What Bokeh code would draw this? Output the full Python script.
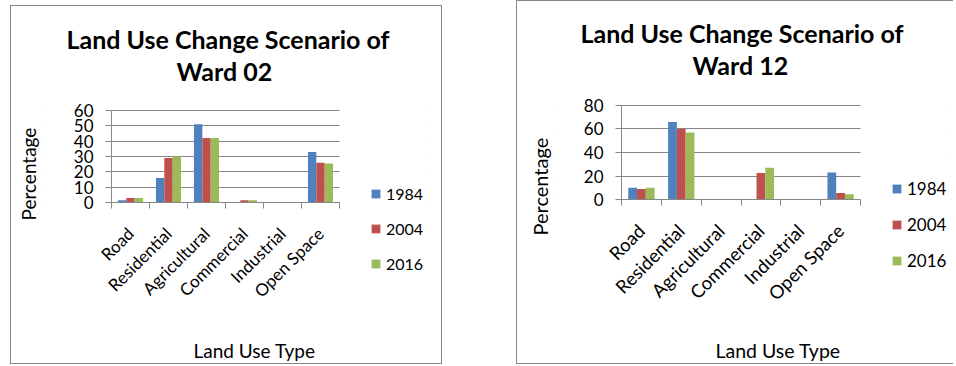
import math
from bokeh.plotting import figure
from bokeh.layouts import row, column
from bokeh.models import (Range1d, FixedTicker, LinearAxis, Legend, LegendItem,
                          Title, Spacer, ColumnDataSource, Grid, BoxAnnotation)
from bokeh.transform import dodge
from bokeh.embed import file_html
from bokeh.resources import INLINE

categories = ["Road", "Residential", "Agricultural", "Commercial", "Industrial", "Open Space"]
years = ["1984", "2004", "2016"]
colors = ["#4F81BD", "#C0504D", "#9BBB59"]

ward02_1984 = [1.5, 16, 51, 0, 0, 33]
ward02_2004 = [3, 29, 42, 1.5, 0, 26]
ward02_2016 = [3, 30, 42, 1.5, 0, 25.5]
ward02_yticks = [0, 10, 20, 30, 40, 50, 60]

ward12_1984 = [10, 66, 0, 0, 0, 23]
ward12_2004 = [9, 60, 0, 22.5, 0, 5.5]
ward12_2016 = [10, 57, 0, 27, 0, 4.5]
ward12_yticks = [0, 20, 40, 60, 80]

FONT = "Lato"
GRAY = "#878787"
BAR_W = 0.22


def spacer_axis(size, at):
    # invisible axis that only reserves room in a side panel
    return LinearAxis(ticker=FixedTicker(ticks=[at]), major_label_overrides={at: ""},
                      major_tick_out=size, major_tick_in=0, major_label_standoff=0,
                      major_label_text_font_size="0px", axis_line_color=None,
                      major_tick_line_color=None, minor_tick_line_color=None)


def make_chart(ward, series, yticks, c, styles):
    n = len(categories)
    ymax = yticks[-1]
    p = figure(width=c["w"], height=c["h"], title=None,
               x_range=Range1d(c["xr"][0], c["xr"][1]),
               y_range=Range1d(c["yr"][0], c["yr"][1]),
               output_backend="svg", toolbar_location=None,
               x_axis_location=None, y_axis_location=None,
               min_border_left=c["mb"][0], min_border_right=c["mb"][1],
               min_border_top=c["mb"][2], min_border_bottom=c["mb"][3],
               outline_line_color=None, background_fill_color="white",
               border_fill_color="white", styles=styles)
    p.xgrid.visible = False
    p.ygrid.visible = False

    centers = [i + 0.5 for i in range(n)]
    bounds = list(range(n + 1))
    xaxis = LinearAxis(ticker=FixedTicker(ticks=centers, minor_ticks=bounds),
                       major_label_overrides={v: t for v, t in zip(centers, categories)},
                       major_label_orientation=math.pi / 4, fixed_location=0,
                       bounds=(0, n),
                       major_tick_line_color=None, major_tick_out=0, major_tick_in=0,
                       minor_tick_out=6, minor_tick_in=0, minor_tick_line_color=GRAY,
                       axis_line_color=GRAY, major_label_standoff=22,
                       major_label_text_font=FONT, major_label_text_font_size=c["xtick_fs"],
                       major_label_text_color="black")
    p.add_layout(xaxis, "below")
    p.add_layout(spacer_axis(c["below_gap"], 3), "below")
    p.add_layout(Title(text="Land Use Type", align="left", offset=c["xt_off"],
                       vertical_align="top", standoff=0, text_font=FONT,
                       text_font_size=c["xt_fs"], text_font_style="normal",
                       text_color="black"), "below")

    yaxis = LinearAxis(ticker=FixedTicker(ticks=yticks), bounds=(0, ymax), fixed_location=0,
                       major_tick_out=6, major_tick_in=0,
                       minor_tick_line_color=None, axis_line_color=GRAY,
                       major_tick_line_color=GRAY, major_label_standoff=12,
                       major_label_text_font=FONT, major_label_text_font_size="17px",
                       major_label_text_color="black")
    p.add_layout(yaxis, "left")
    p.add_layout(spacer_axis(c["left_gap"], yticks[0]), "left")
    p.add_layout(Title(text="Percentage", align="left", offset=c["yt_off"],
                       vertical_align="bottom", standoff=0, text_font=FONT,
                       text_font_size=c["yt_fs"], text_font_style="normal",
                       text_color="black"), "left")
    p.add_layout(Grid(dimension=1, ticker=yaxis.ticker, grid_line_color=GRAY))
    # white covers so the grid stays within the category span
    p.add_layout(BoxAnnotation(left=n, fill_color="white", fill_alpha=1,
                               line_color=None, level="glyph"))
    p.add_layout(BoxAnnotation(right=0, fill_color="white", fill_alpha=1,
                               line_color=None, level="glyph"))

    data = {"x": centers}
    for y, s in zip(years, series):
        data[y] = s
    src = ColumnDataSource(data)
    items = []
    for k, (y, col) in enumerate(zip(years, colors)):
        r = p.vbar(x=dodge("x", (k - 1) * BAR_W), top=y, width=BAR_W, source=src,
                   fill_color=col, line_color=None)
        items.append(LegendItem(label=y, renderers=[r]))

    legend = Legend(items=items, location=c["leg"], orientation="vertical",
                    glyph_width=11, glyph_height=11, label_height=20, label_standoff=5,
                    spacing=15, padding=0, margin=0, border_line_color=None,
                    background_fill_alpha=0, label_text_font=FONT,
                    label_text_font_size=c["leg_fs"], label_text_baseline="middle",
                    label_text_color="black")
    p.add_layout(legend, "center")

    p.add_layout(spacer_axis(c["top_gap"], 3), "above")
    p.add_layout(Title(text=f"Ward {ward}", align="left", offset=c["t2_off"],
                       text_font=FONT, text_font_size="25px", text_font_style="bold",
                       standoff=0, text_color="black"), "above")
    p.add_layout(Title(text="Land Use Change Scenario of", align="left",
                       offset=c["t1_off"], text_font=FONT, text_font_size="25px",
                       text_font_style="bold", standoff=0, text_color="black"), "above")
    return p


cfg1 = {"w": 432, "h": 359, "mb": (31, 13, 94, 60), "xr": (-1.8158, 8.3947),
        "yr": (-67.17, 66.52), "leg": (328, 32), "below_gap": 33, "xt_off": 151,
        "left_gap": 3, "yt_off": 85, "top_gap": 15, "t1_off": 24, "t2_off": 134,
        "xtick_fs": "17px", "xt_fs": "19px", "yt_fs": "19px", "leg_fs": "16px"}
cfg2 = {"w": 437, "h": 364, "mb": (37, 4, 94, 60), "xr": (-1.682, 8.2594),
        "yr": (-90.21, 88.51), "leg": (337, 34), "below_gap": 33, "xt_off": 161,
        "left_gap": 3, "yt_off": 70, "top_gap": 16, "t1_off": 26, "t2_off": 138,
        "xtick_fs": "18.5px", "xt_fs": "19.5px", "yt_fs": "20px", "leg_fs": "17px"}

p1 = make_chart("02", [ward02_1984, ward02_2004, ward02_2016], ward02_yticks, cfg1,
                {"border": "1px solid #878787"})
p2 = make_chart("12", [ward12_1984, ward12_2004, ward12_2016], ward12_yticks, cfg2,
                {"border-left": "1px solid #878787", "border-top": "1px solid #878787",
                 "border-bottom": "1px solid #878787"})

layout = row(Spacer(width=10), column(Spacer(height=5), p1), Spacer(width=74), p2)
open("out.html", "w").write(file_html(layout, INLINE))
